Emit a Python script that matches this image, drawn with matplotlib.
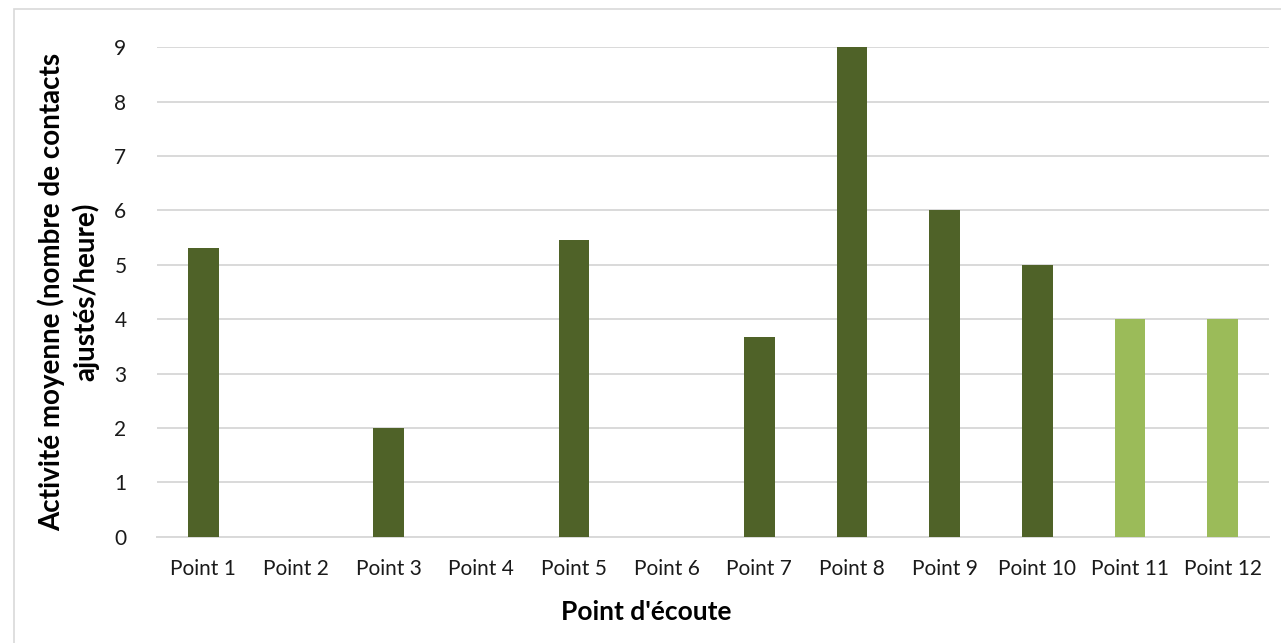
import matplotlib
matplotlib.use("Agg")
import matplotlib.pyplot as plt
from matplotlib.patches import Rectangle

categories = ["Point 1", "Point 2", "Point 3", "Point 4", "Point 5", "Point 6",
              "Point 7", "Point 8", "Point 9", "Point 10", "Point 11", "Point 12"]
values = [5.31, 0, 2, 0, 5.46, 0, 3.67, 9, 6, 5, 4, 4]
colors = ["#4F6228"] * 10 + ["#9BBB59"] * 2
y_ticks = list(range(0, 10))

plt.rcParams["font.family"] = ["Lato", "DejaVu Sans"]

fig = plt.figure(figsize=(12.81, 6.43), dpi=100)
fig.patches.append(Rectangle((14 / 1281, -0.1), 1.2, 1 - 9 / 643 + 0.1,
                             transform=fig.transFigure, fill=False,
                             edgecolor="#D9D9D9", linewidth=1.2, zorder=0))

ax = fig.add_axes([157 / 1281, 1 - 536.7 / 643, (1269 - 157) / 1281, (536.7 - 47.3) / 643])
x = range(len(categories))
ax.bar(x, values, width=0.33, color=colors, zorder=3)
ax.set_xlim(-0.5, len(categories) - 0.5)
ax.set_ylim(0, 9)
ax.set_yticks(y_ticks)
ax.set_xticks(list(x))
ax.set_xticklabels(categories)
ax.grid(axis="y", color="#D9D9D9", linewidth=1.4, zorder=0)
ax.set_axisbelow(True)
for s in ["top", "right", "left"]:
    ax.spines[s].set_visible(False)
ax.spines["bottom"].set_color("#D9D9D9")
ax.spines["bottom"].set_linewidth(1.4)
ax.tick_params(axis="both", length=0, labelsize=15, colors="#1a1a1a")
ax.tick_params(axis="y", pad=22)
ax.tick_params(axis="x", pad=16)

ax.set_xlabel("Point d'écoute", fontsize=19, fontweight="bold", labelpad=15)
ax.xaxis.label.set_x((646.5 - 157) / (1269 - 157))
ax.set_ylabel("Activité moyenne (nombre de contacts\najustés/heure)", fontsize=20,
              fontweight="bold", labelpad=11, linespacing=1.28)

fig.savefig("out.png", dpi=100, facecolor="white")
